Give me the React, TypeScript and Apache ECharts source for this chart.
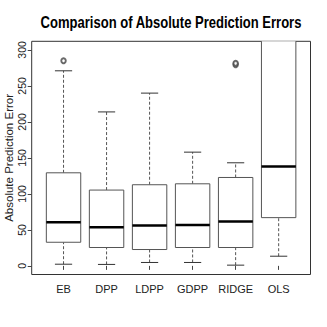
import React, { useEffect, useRef } from "react";
import * as echarts from "echarts";

const categories = ["EB", "DPP", "LDPP", "GDPP", "RIDGE", "OLS"];
// [low whisker, Q1, median, Q3, high whisker]
const lowWhisker = [2.3, 2.0, 4.7, 4.7, 1.0, 13.4];
const q1Values = [32.8, 25.5, 22.7, 25.5, 25.5, 67.0];
const medianValues = [60.5, 53.6, 56.0, 56.8, 61.5, 138.0];
const q3Values = [129.3, 105.3, 112.7, 114.0, 122.8, 400.0];
const highWhisker = [271.0, 213.9, 240.0, 158.0, 143.2, 800.0];
const outlierCategory = [1, 5, 5];
const outlierValues = [285.0, 279.5, 281.5];
const yTicks = [0, 50, 100, 150, 200, 250, 300];
const xTicks = [1, 2, 3, 4, 5, 6];
const titleText = "Comparison of Absolute Prediction Errors";

export default function App() {
  const ref = useRef<HTMLDivElement>(null);
  useEffect(() => {
    if (!ref.current) return;
    const chart = echarts.init(ref.current, null, { renderer: "svg" });
    const boxData = categories.map((_, i) => [
      i + 1,
      lowWhisker[i],
      q1Values[i],
      medianValues[i],
      q3Values[i],
      highWhisker[i],
    ]);
    const outliers = outlierValues.map((v, i) => [outlierCategory[i], v]);
    const boxColor = "#555";
    chart.setOption({
      animation: false,
      backgroundColor: "#fff",
      graphic: [
        {
          type: "text",
          x: 171,
          y: 22,
          scaleX: 0.79,
          style: {
            text: titleText,
            fontFamily: "'Liberation Sans', Arial, sans-serif",
            fontSize: 16.5,
            fontWeight: "bold",
            fill: "#000",
            textAlign: "center",
            textVerticalAlign: "middle",
          },
        },
      ],
      grid: {
        left: 31.7,
        right: 16.5,
        top: 41.3,
        bottom: 52.5,
        outerBoundsMode: "none",
        containLabel: false,
        show: true,
        borderColor: "#333",
        borderWidth: 1,
        backgroundColor: "transparent",
      },
      xAxis: {
        type: "value",
        min: 0.26,
        max: 6.74,
        axisLine: { show: false },
        splitLine: { show: false },
        axisTick: {
          show: true,
          length: 4,
          customValues: xTicks,
          lineStyle: { color: "#444" },
        },
        axisLabel: {
          customValues: xTicks,
          formatter: (v: number) => categories[Math.round(v) - 1] ?? "",
          margin: 9,
          fontFamily: "'Liberation Sans', Arial, sans-serif",
          fontSize: 11,
          color: "#222",
        },
      },
      yAxis: {
        type: "value",
        min: -12,
        max: 312,
        name: "Absolute Prediction Error",
        nameLocation: "middle",
        nameRotate: 90,
        nameGap: 17,
        nameMoveOverlap: false,
        nameTextStyle: {
          fontFamily: "'Liberation Sans', Arial, sans-serif",
          fontSize: 11.5,
          color: "#222",
        },
        axisLine: { show: false },
        splitLine: { show: false },
        axisTick: {
          show: true,
          length: 4,
          customValues: yTicks,
          lineStyle: { color: "#444" },
        },
        axisLabel: {
          customValues: yTicks,
          rotate: 90,
          margin: 4,
          fontFamily: "'Liberation Sans', Arial, sans-serif",
          fontSize: 10.5,
          color: "#222",
        },
      },
      series: [
        {
          type: "custom",
          clip: true,
          data: boxData,
          renderItem: (params: any, api: any) => {
            const x = api.value(0);
            const lo = api.value(1);
            const q1 = api.value(2);
            const med = api.value(3);
            const q3 = api.value(4);
            const hi = api.value(5);
            const halfBox = api.size([0.4, 0])[0];
            const halfCap = halfBox / 2;
            const pLo = api.coord([x, lo]);
            const pQ1 = api.coord([x, q1]);
            const pMed = api.coord([x, med]);
            const pQ3 = api.coord([x, q3]);
            const pHi = api.coord([x, hi]);
            const cx = pMed[0];
            const dash = { stroke: boxColor, lineWidth: 1, lineDash: [3, 2], fill: null };
            const solid = { stroke: "#333", lineWidth: 1, fill: null };
            return {
              type: "group",
              children: [
                { type: "line", shape: { x1: cx, y1: pLo[1], x2: cx, y2: pQ1[1] }, style: dash },
                { type: "line", shape: { x1: cx, y1: pQ3[1], x2: cx, y2: pHi[1] }, style: dash },
                { type: "line", shape: { x1: cx - halfCap, y1: pLo[1], x2: cx + halfCap, y2: pLo[1] }, style: solid },
                { type: "line", shape: { x1: cx - halfCap, y1: pHi[1], x2: cx + halfCap, y2: pHi[1] }, style: solid },
                {
                  type: "rect",
                  shape: { x: cx - halfBox, y: pQ3[1], width: halfBox * 2, height: pQ1[1] - pQ3[1] },
                  style: { stroke: boxColor, lineWidth: 1, fill: "#fff" },
                },
                {
                  type: "line",
                  shape: { x1: cx - halfBox, y1: pMed[1], x2: cx + halfBox, y2: pMed[1] },
                  style: { stroke: "#000", lineWidth: 2.5 },
                },
              ],
            };
          },
        },
        {
          type: "scatter",
          data: outliers,
          symbol: "emptyCircle",
          symbolSize: [4.5, 5],
          itemStyle: { color: "#444", borderColor: "#444", borderWidth: 0.7 },
        },
      ],
    });
    return () => chart.dispose();
  }, []);
  return (
    <div
      ref={ref}
      style={{ position: "absolute", left: 0, top: 0, width: 327, height: 327 }}
    />
  );
}
